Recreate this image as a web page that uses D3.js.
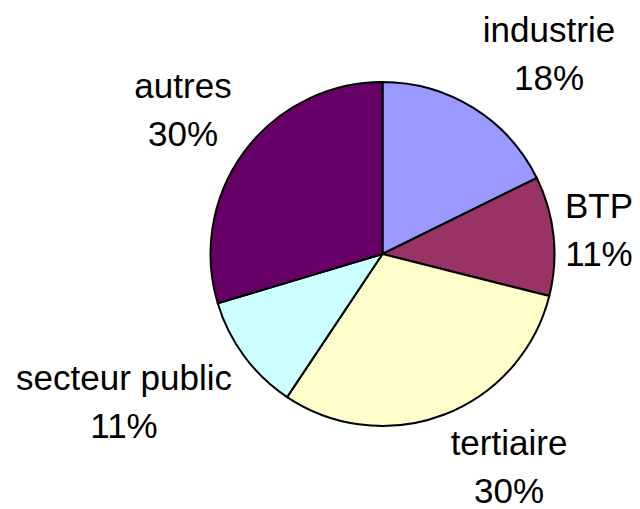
<!DOCTYPE html>
<html>
<head>
<meta charset="utf-8">
<script src="https://cdn.jsdelivr.net/npm/d3@7"></script>
<style>
  html, body { margin: 0; padding: 0; background: #fff; }
  svg { display: block; }
  text { font-family: "Liberation Sans", Arial, sans-serif; font-size: 35px; fill: #000; }
</style>
</head>
<body>
<svg id="chart" width="640" height="509"></svg>
<script>
const categories = ["industrie", "BTP", "tertiaire", "secteur public", "autres"];
const values = [17.7, 11.2, 30.4, 11.0, 29.6];
const colors = ["#9999FF", "#993366", "#FFFFCC", "#CCFFFF", "#660066"];
// label anchor positions (centre x, first baseline y)
const labelPos = [[549, 42], [599, 218], [509, 455], [124, 390], [183, 98]];

const svg = d3.select("#chart");
const cx = 382.5, cy = 254, r = 172;
const total = d3.sum(values);
const fmt = d3.format(".0%");

const pie = d3.pie().sort(null).value(d => d)(values);
const arc = d3.arc().innerRadius(0).outerRadius(r);

const g = svg.append("g").attr("transform", `translate(${cx},${cy})`);
g.selectAll("path").data(pie).join("path")
  .attr("d", arc)
  .attr("fill", (d, i) => colors[i])
  .attr("stroke", "#000")
  .attr("stroke-width", 2)
  .attr("stroke-linejoin", "round");

const labels = svg.selectAll("text.lbl").data(categories).join("text")
  .attr("class", "lbl")
  .attr("text-anchor", "middle")
  .attr("x", (d, i) => labelPos[i][0])
  .attr("y", (d, i) => labelPos[i][1]);
labels.append("tspan").text(d => d);
labels.append("tspan")
  .attr("x", (d, i) => labelPos[i][0])
  .attr("dy", 48)
  .text((d, i) => fmt(values[i] / total));
</script>
</body>
</html>
